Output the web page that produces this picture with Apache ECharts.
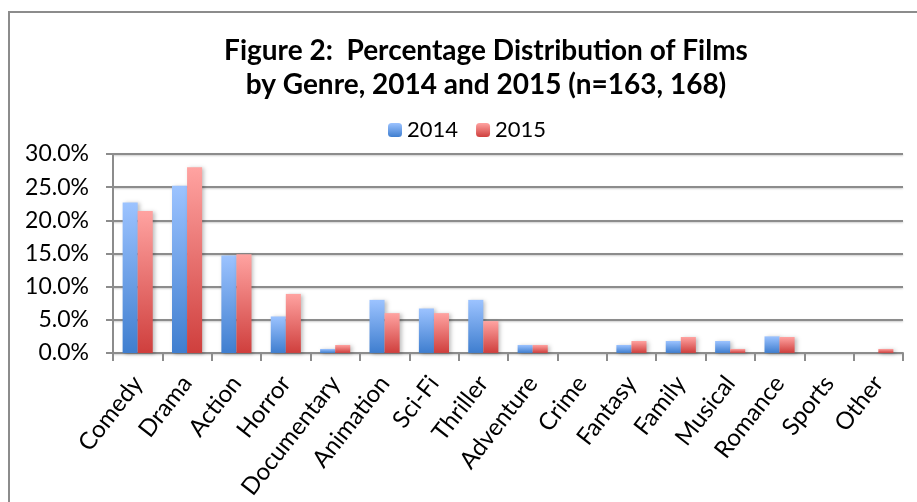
<!DOCTYPE html>
<html lang="en">
<head>
	<meta charset="utf-8">
	<title>Figure 2: Percentage Distribution of Films by Genre</title>
	<style>
		html, body { margin: 0; padding: 0; background: #fff; }
		#main { width: 917px; height: 502px; }
	</style>
</head>
<body>
	<div id="main"></div>
	<script type="text/javascript" src="https://cdn.jsdelivr.net/npm/echarts@6.0.0/dist/echarts.min.js"></script>
	<script type="text/javascript">
		// genres and percentages (n=163 for 2014, n=168 for 2015)
		var genres = ['Comedy','Drama','Action','Horror','Documentary','Animation','Sci-Fi','Thriller','Adventure','Crime','Fantasy','Family','Musical','Romance','Sports','Other'];
		var pct2014 = [22.7, 25.2, 14.7, 5.5, 0.6, 8.0, 6.7, 8.0, 1.2, 0, 1.2, 1.8, 1.8, 2.5, 0, 0];
		var pct2015 = [21.4, 28.0, 14.9, 8.9, 1.2, 6.0, 6.0, 4.8, 1.2, 0, 1.8, 2.4, 0.6, 2.4, 0, 0.6];
		var yTicks = [0, 5, 10, 15, 20, 25, 30];

		var font = 'Lato, "Open Sans", sans-serif';

		function grad(top, bottom) {
			return new echarts.graphic.LinearGradient(0, 0, 0, 1, [
				{ offset: 0, color: top },
				{ offset: 1, color: bottom }
			]);
		}

		var myChart = echarts.init(document.getElementById('main'));

		myChart.setOption({
			animation: false,
			textStyle: { fontFamily: font },
			graphic: [{
				type: 'rect',
				shape: { x: 9, y: 12, width: 1000, height: 600 },
				style: { fill: 'none', stroke: '#8c8c8c', lineWidth: 2 },
				silent: true
			}],
			title: {
				text: 'Figure 2:  Percentage Distribution of Films\nby Genre, 2014 and 2015 (n=163, 168)',
				left: 481,
				textAlign: 'center',
				top: 29,
				textStyle: {
					fontFamily: font,
					fontSize: 28,
					fontWeight: 'bold',
					color: '#000',
					lineHeight: 34
				}
			},
			legend: {
				data: ['2014', '2015'],
				left: 383,
				top: 114,
				itemWidth: 14,
				itemHeight: 14,
				itemGap: 18,
				textStyle: { fontFamily: font, fontSize: 22, color: '#000' }
			},
			grid: {
				left: 113,
				right: 14,
				top: 154,
				bottom: 148,
				containLabel: false
			},
			xAxis: {
				type: 'category',
				data: genres,
				axisLine: { lineStyle: { color: '#8c8c8c', width: 2 } },
				axisTick: { show: true, length: 8, lineStyle: { color: '#8c8c8c', width: 2 } },
				axisLabel: {
					interval: 0,
					rotate: 52,
					fontFamily: font,
					fontSize: 24,
					color: '#000',
					margin: 26
				}
			},
			yAxis: {
				type: 'value',
				min: yTicks[0],
				max: yTicks[yTicks.length - 1],
				interval: 5,
				axisLine: { show: true, lineStyle: { color: '#8c8c8c', width: 2 } },
				axisTick: { show: true, length: 7, lineStyle: { color: '#8c8c8c', width: 2 } },
				splitLine: { lineStyle: { color: '#8c8c8c', width: 2, shadowColor: 'rgba(0,0,0,0.2)', shadowBlur: 2, shadowOffsetY: 1 } },
				axisLabel: {
					fontFamily: font,
					fontSize: 23,
					color: '#000',
					margin: 24,
					formatter: function (v) { return v.toFixed(1) + '%'; }
				}
			},
			series: [
				{
					name: '2014',
					type: 'bar',
					data: pct2014,
					barGap: '0%',
					barCategoryGap: '39%',
					itemStyle: {
						color: grad('#9cc3ff', '#3f7ecf'),
						shadowColor: 'rgba(0,0,0,0.25)',
						shadowBlur: 4,
						shadowOffsetX: 2,
						shadowOffsetY: 1
					}
				},
				{
					name: '2015',
					type: 'bar',
					data: pct2015,
					barGap: '0%',
					barCategoryGap: '39%',
					itemStyle: {
						color: grad('#ffa3a1', '#cf3f3d'),
						shadowColor: 'rgba(0,0,0,0.25)',
						shadowBlur: 4,
						shadowOffsetX: 2,
						shadowOffsetY: 1
					}
				}
			]
		});
	</script>
</body>
</html>
